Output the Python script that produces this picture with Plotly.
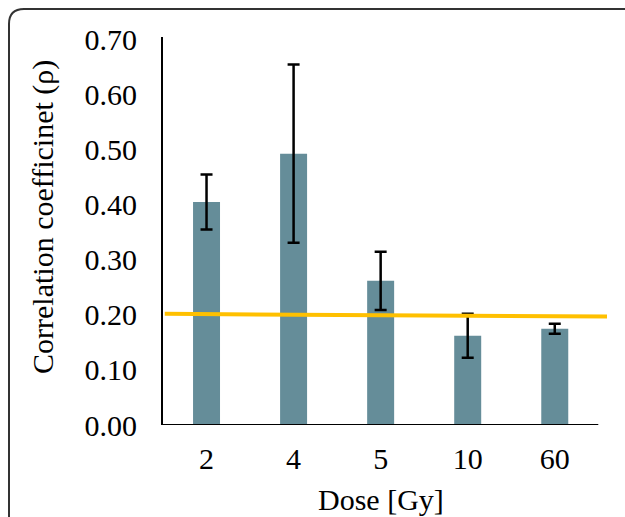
import plotly.graph_objects as go

categories = ["2", "4", "5", "10", "60"]
rho = [0.405, 0.493, 0.262, 0.162, 0.175]
rho_err = [0.050, 0.162, 0.053, 0.040, 0.009]
trend_x = [-0.48, 4.6]
trend_y = [0.202, 0.197]
y_ticks = [0.0, 0.1, 0.2, 0.3, 0.4, 0.5, 0.6, 0.7]

FONT = "Liberation Serif"
FS = 30
W, H = 625, 517
ML, MR, MT, MB = 163, 18, 37, 92
PW, PH = W - ML - MR, H - MT - MB

def px(x):
    return (x - ML) / PW

def py(y):
    return 1 - (y - MT) / PH

fig = go.Figure()
fig.add_trace(go.Bar(
    x=list(range(len(categories))), y=rho,
    width=0.31,
    marker=dict(color="#658D99", line=dict(width=0)),
    error_y=dict(type="data", array=rho_err, visible=True,
                 color="black", thickness=2.5, width=6),
    showlegend=False,
))
fig.add_trace(go.Scatter(
    x=trend_x, y=trend_y, mode="lines",
    line=dict(color="#FFC000", width=4), showlegend=False,
))

# x axis baseline across the category span
fig.add_shape(type="line", xref="x", yref="y", x0=-0.5, x1=len(categories) - 0.5,
              y0=0, y1=0, line=dict(color="black", width=2), layer="above")

# rounded outer border
r = 15
x0, y0 = px(9), py(9)
x1, y1 = px(W + 10), py(H + 10)
path = (f"M {x0},{y1} L {x0},{py(9 + r)} Q {x0},{y0} {px(9 + r)},{y0} L {x1},{y0}")
fig.add_shape(type="path", xref="paper", yref="paper", path=path,
              line=dict(color="#333333", width=2))

fig.add_annotation(text="Correlation coefficinet (ρ)", xref="paper", yref="paper",
                   x=px(43), y=py(217), textangle=-90, showarrow=False,
                   font=dict(family=FONT, size=FS, color="black"),
                   xanchor="center", yanchor="middle")
fig.add_annotation(text="Dose [Gy]", xref="x", yref="paper",
                   x=2, y=py(517), showarrow=False,
                   font=dict(family=FONT, size=FS, color="black"),
                   xanchor="center", yanchor="bottom", borderpad=0)

fig.update_layout(
    width=W, height=H,
    margin=dict(l=ML, r=MR, t=MT, b=MB, pad=0),
    paper_bgcolor="white", plot_bgcolor="white",
    font=dict(family=FONT, size=FS, color="black"),
)
fig.update_xaxes(
    range=[-0.5, 4.6], tickmode="array",
    tickvals=list(range(len(categories))), ticktext=categories,
    showline=False, showgrid=False, zeroline=False, ticks="",
    ticklabelstandoff=13,
    tickfont=dict(family=FONT, size=FS, color="black"),
)
fig.update_yaxes(
    range=[0, 0.705], tickmode="array", tickvals=y_ticks,
    ticktext=[f"{v:.2f}" for v in y_ticks],
    showline=True, linecolor="black", linewidth=2,
    showgrid=False, zeroline=False, ticks="",
    ticklabelstandoff=18,
    tickfont=dict(family=FONT, size=FS, color="black"),
)

fig.write_html("out.html", config={"displayModeBar": False},
               post_script="document.body.style.margin='0';document.body.style.overflow='hidden';")
